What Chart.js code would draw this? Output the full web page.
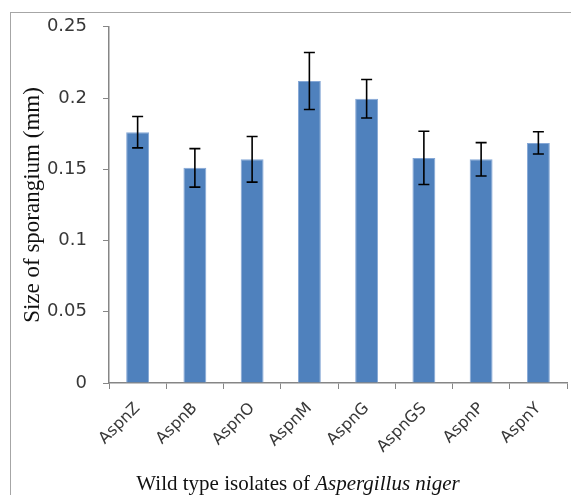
<!DOCTYPE html>
<html>
<head>
<meta charset="utf-8">
<script src="https://cdn.jsdelivr.net/npm/chart.js@4"></script>
<style>
  html, body { margin: 0; padding: 0; background: #fff; }
  #wrap { width: 571px; height: 495px; }
</style>
</head>
<body>
<div id="wrap"><canvas id="myChart" width="571" height="495"></canvas></div>
<script>
var isolates = ['AspnZ', 'AspnB', 'AspnO', 'AspnM', 'AspnG', 'AspnGS', 'AspnP', 'AspnY'];
var sizes = [0.176, 0.151, 0.157, 0.212, 0.1995, 0.158, 0.157, 0.1685];
var errors = [0.011, 0.0135, 0.016, 0.020, 0.0135, 0.0187, 0.0117, 0.0078];
var yTicks = [0, 0.05, 0.1, 0.15, 0.2, 0.25];

var axisGray = '#868686';

// error bars drawn from the scale, on top of the bars
var errorBars = {
    id: 'errorBars',
    afterDatasetsDraw: function(chart) {
        var meta = chart.getDatasetMeta(0);
        var y = chart.scales.y;
        var c = chart.ctx;
        c.save();
        c.strokeStyle = '#000';
        c.lineWidth = 1.6;
        meta.data.forEach(function(bar, i) {
            var top = y.getPixelForValue(sizes[i] + errors[i]);
            var bot = y.getPixelForValue(sizes[i] - errors[i]);
            c.beginPath();
            c.moveTo(bar.x, top); c.lineTo(bar.x, bot);
            c.moveTo(bar.x - 5.5, top); c.lineTo(bar.x + 5.5, top);
            c.moveTo(bar.x - 5.5, bot); c.lineTo(bar.x + 5.5, bot);
            c.stroke();
        });
        c.restore();
    }
};

// outer frame and axis titles (x title has an italic part)
var decor = {
    id: 'decor',
    beforeDraw: function(chart) {
        var c = chart.ctx;
        c.save();
        c.fillStyle = '#fff';
        c.fillRect(0, 0, chart.width, chart.height);
        c.strokeStyle = '#a6a6a6';
        c.lineWidth = 1;
        c.strokeRect(10.5, 12.5, 700, 700);
        c.restore();
    },
    afterDraw: function(chart) {
        var c = chart.ctx;
        c.save();
        c.fillStyle = '#111';
        c.font = '23px "Liberation Serif", "Times New Roman", serif';
        c.translate(33, 205);
        c.rotate(-Math.PI / 2);
        c.textAlign = 'center';
        c.textBaseline = 'middle';
        c.fillText('Size of sporangium (mm)', 0, 0);
        c.restore();

        c.save();
        c.fillStyle = '#111';
        c.textBaseline = 'alphabetic';
        var plain = 'Wild type isolates of ';
        var ital = 'Aspergillus niger';
        c.font = '21px "Liberation Serif", "Times New Roman", serif';
        var w1 = c.measureText(plain).width;
        c.font = 'italic 21px "Liberation Serif", "Times New Roman", serif';
        var w2 = c.measureText(ital).width;
        var x0 = 298 - (w1 + w2) / 2;
        c.font = '21px "Liberation Serif", "Times New Roman", serif';
        c.fillText(plain, x0, 490);
        c.font = 'italic 21px "Liberation Serif", "Times New Roman", serif';
        c.fillText(ital, x0 + w1, 490);
        c.restore();
    }
};

var ctx = document.getElementById('myChart').getContext('2d');
var myChart = new Chart(ctx, {
    type: 'bar',
    data: {
        labels: isolates,
        datasets: [{
            label: 'Size of sporangium (mm)',
            data: sizes,
            backgroundColor: '#4f81bd',
            borderColor: '#86a8d6',
            borderWidth: 1,
            barPercentage: 0.4,
            categoryPercentage: 1
        }]
    },
    options: {
        responsive: false,
        animation: false,
        layout: { padding: { left: 0, top: 25, right: 4, bottom: 0 } },
        plugins: {
            legend: { display: false },
            tooltip: { enabled: false }
        },
        scales: {
            x: {
                grid: { drawOnChartArea: false, drawTicks: true, tickLength: 6, color: axisGray, offset: true },
                border: { color: axisGray, width: 1.5 },
                ticks: {
                    color: '#383838',
                    font: { family: '"DejaVu Sans", Verdana, sans-serif', size: 16 },
                    maxRotation: 45, minRotation: 45,
                    autoSkip: false,
                    padding: 10
                },
                afterFit: function(s) { s.height = 112; }
            },
            y: {
                min: 0, max: 0.25,
                afterBuildTicks: function(s) { s.ticks = yTicks.map(function(v) { return { value: v }; }); },
                grid: { drawOnChartArea: false, drawTicks: true, tickLength: 6, color: axisGray },
                border: { color: axisGray, width: 1.5 },
                ticks: {
                    color: '#383838',
                    font: { family: '"DejaVu Sans", Verdana, sans-serif', size: 18 },
                    padding: 16,
                    callback: function(v) { return String(v); }
                },
                afterFit: function(s) { s.width = 109; }
            }
        }
    },
    plugins: [errorBars, decor]
});
</script>
</body>
</html>
